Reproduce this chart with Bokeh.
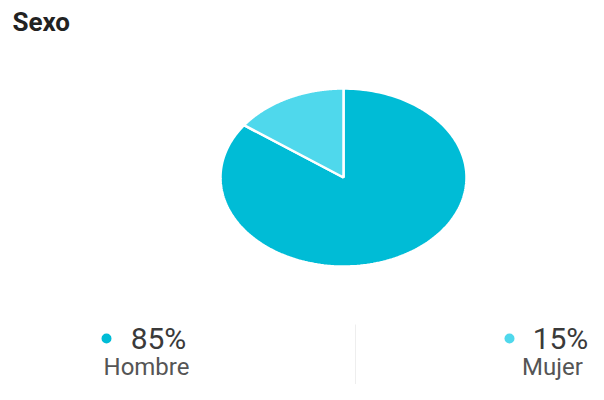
import numpy as np
from bokeh.plotting import figure
from bokeh.models import Range1d
from bokeh.core.properties import value
from bokeh.embed import file_html
from bokeh.resources import INLINE

categories = ["Hombre", "Mujer"]
shares = [85, 15]
colors = ["#00BCD6", "#4FD8EC"]
pct_labels = ["85%", "15%"]

W, H = 588, 384
p = figure(width=W, height=H, output_backend="svg", toolbar_location=None,
           x_range=Range1d(0, W), y_range=Range1d(H, 0),
           min_border=0)
p.axis.visible = False
p.grid.visible = False
p.outline_line_color = None
p.background_fill_color = "white"

# elliptical pie (reference is stretched horizontally)
cx, cy, rx, ry = 343, 177, 123, 89
fr = np.array(shares, dtype=float) / sum(shares)
starts = [np.pi / 2 + fr[1] * 2 * np.pi, np.pi / 2]
xs, ys = [], []
for i, f in enumerate(fr):
    a0 = starts[i]
    t = np.linspace(a0, a0 + f * 2 * np.pi, 200)
    xs.append([cx] + list(cx + rx * np.cos(t)) + [cx])
    ys.append([cy] + list(cy - ry * np.sin(t)) + [cy])
p.patches(xs, ys, fill_color=colors, line_color="white", line_width=2.5)

# title
p.text(x=[12], y=[21], text=["Sexo"], text_font=value("Roboto"),
       text_font_size="26px", text_font_style="bold", text_color="#222222",
       text_baseline="middle", text_align="left")

# legend block
lx_dot = [106, 509]
lx_pct = [158, 560]
lx_name = [146, 552]
p.scatter(x=lx_dot, y=[338, 338], size=10, color=colors, line_color=None)
p.text(x=lx_pct, y=[338, 338], text=pct_labels, text_font=value("Roboto"),
       text_font_size="30px", text_color="#3a3a3a", text_baseline="middle",
       text_align="center")
p.text(x=lx_name, y=[366, 366], text=categories, text_font=value("Roboto"),
       text_font_size="24px", text_color="#555555", text_baseline="middle",
       text_align="center")
p.segment(x0=[355], y0=[324], x1=[355], y1=[384], line_color="#eeeeee",
          line_width=1)

open("out.html", "w").write(file_html(p, INLINE))
